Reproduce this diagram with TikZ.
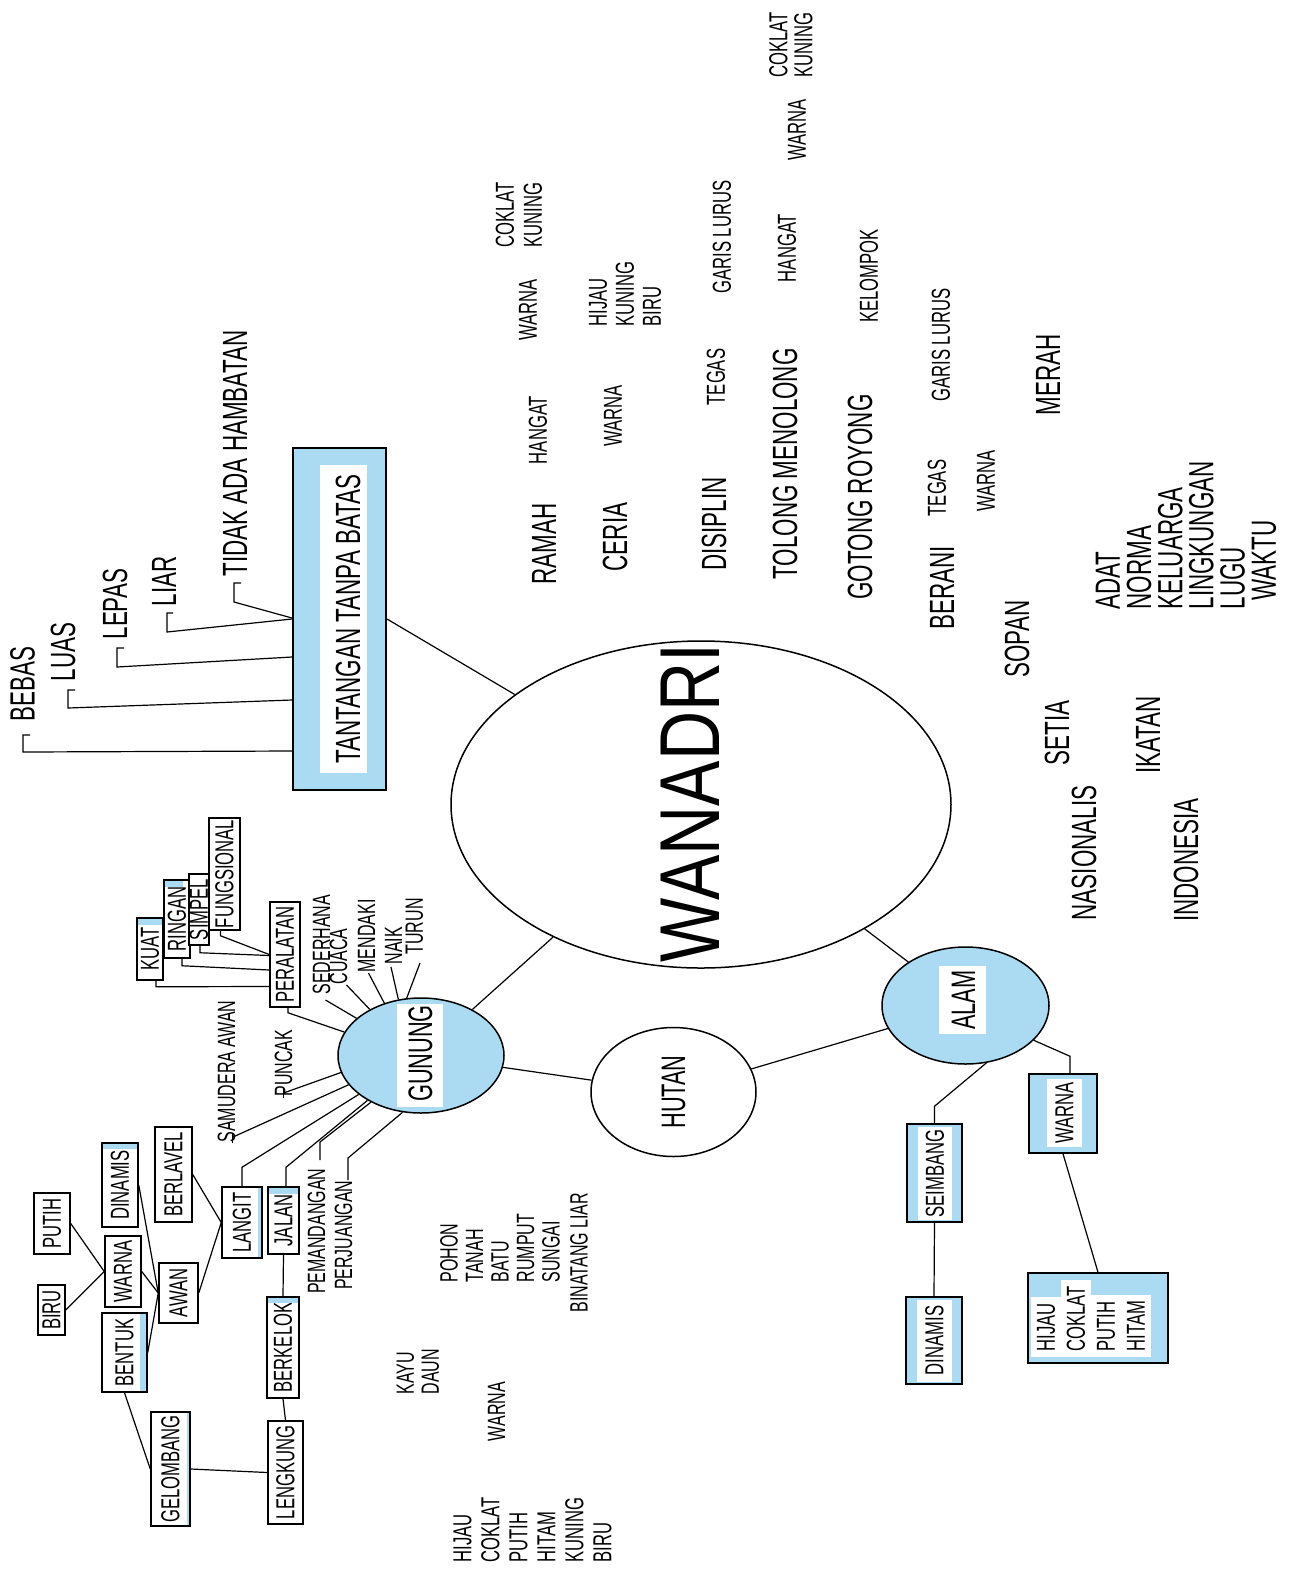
\documentclass[tikz,border=0pt]{standalone}
\usepackage{fontspec}
\setmainfont{Liberation Sans}[FakeStretch=0.64]
\newfontfamily\widefont{Liberation Sans}[FakeStretch=0.8]
\usetikzlibrary{shapes,calc}
\definecolor{skyblue}{RGB}{171,219,243}
\newcommand{\rotlabel}[1]{\rotatebox{90}{#1}}
\newcommand{\rotlines}[2]{\rotatebox{90}{\vbox{\baselineskip=#1\lineskiplimit=-50pt\lineskip=0pt\halign{##\hfil\cr#2\crcr}}}}
\newcommand{\whitebg}[1]{\colorbox{white}{#1}}
\setlength{\fboxsep}{3pt}

\begin{document}
\begin{tikzpicture}[x=0.5pt,y=-0.5pt,line width=0.6pt,
  lbl/.style={inner sep=0pt},
  big/.style={lbl,font=\fontsize{17.5}{17.5}\selectfont},
  small/.style={lbl,font=\fontsize{13}{13}\selectfont},
  tiny/.style={lbl,font=\fontsize{12.5}{12.5}\selectfont},
  tag/.style={draw,fill=white,inner sep=0pt,line width=0.75pt,font=\fontsize{13}{13}\selectfont},
  bluebox/.style={draw,fill=skyblue,inner sep=0pt,line width=0.75pt},
  whitebox/.style={fill=white,inner sep=0pt,font=\fontsize{13}{13}\selectfont},
  blob/.style={draw,ellipse,inner sep=0pt,line width=0.75pt}]
\useasboundingbox (0,0) rectangle (1302,1576);

\node[blob,minimum width=250pt,minimum height=163.5pt] (wanadri) at (701,804.5) {};
\node[lbl,font=\widefont\fontsize{42.5}{42.5}\selectfont] (wanadritxt) at (690,803) {\rotlabel{WANADRI}};

\node[bluebox,line width=1pt,minimum width=46.5pt,minimum height=171pt] (tantangan) at (339.5,619) {};
\node[whitebox,minimum width=23.5pt,minimum height=154pt] at (343.5,619) {};
\node[big] (tantangantxt) at (348,619) {\rotlabel{TANTANGAN TANPA BATAS}};

\node[big,anchor=south] (bebas) at (22.5,722) {\rotlabel{BEBAS}};
\node[big,anchor=south] (luas) at (63,682) {\rotlabel{LUAS}};
\node[big,anchor=south] (lepas) at (115,640) {\rotlabel{LEPAS}};
\node[big,anchor=south] (liar) at (164,607) {\rotlabel{LIAR}};
\node[big,anchor=south] (tidak) at (235,577) {\rotlabel{TIDAK ADA HAMBATAN}};

\node[big] (ramah) at (544,544) {\rotlabel{RAMAH}};
\node[small] (hangat1) at (538,430) {\rotlabel{HANGAT}};
\node[small] (warna1) at (528,310) {\rotlabel{WARNA}};
\node[small,anchor=south] (coklat1) at (519,248) {\rotlines{14pt}{COKLAT\cr KUNING}};
\node[big] (ceria) at (615,537) {\rotlabel{CERIA}};
\node[small] (warna2) at (613,416) {\rotlabel{WARNA}};
\node[small,anchor=south] (hijau1) at (625,327) {\rotlines{13.5pt}{HIJAU\cr KUNING\cr BIRU}};
\node[big] (disiplin) at (714,524) {\rotlabel{DISIPLIN}};
\node[small] (tegas1) at (716,377) {\rotlabel{TEGAS}};
\node[small] (garis1) at (722,237) {\rotlabel{GARIS LURUS}};
\node[big] (tolong) at (785,464) {\rotlabel{TOLONG MENOLONG}};
\node[small] (hangat2) at (787,248) {\rotlabel{HANGAT}};
\node[small] (warna3) at (797,130) {\rotlabel{WARNA}};
\node[small,anchor=south] (coklat2) at (791,78) {\rotlines{12.5pt}{COKLAT\cr KUNING}};
\node[big] (gotong) at (860,497) {\rotlabel{GOTONG ROYONG}};
\node[small] (kelompok) at (869,276) {\rotlabel{KELOMPOK}};
\node[big] (berani) at (942,588) {\rotlabel{BERANI}};
\node[small] (tegas2) at (937,488) {\rotlabel{TEGAS}};
\node[small] (garis2) at (941,345) {\rotlabel{GARIS LURUS}};
\node[small] (warna4) at (986,481) {\rotlabel{WARNA}};
\node[big] (merah) at (1048,375) {\rotlabel{MERAH}};
\node[big] (sopan) at (1017,639) {\rotlabel{SOPAN}};
\node[big,anchor=south] (adat) at (1186,610) {\rotlines{15.6pt}{ADAT\cr NORMA\cr KELUARGA\cr LINGKUNGAN\cr LUGU\cr \kern4.5pt WAKTU}};
\node[big] (setia) at (1057,733) {\rotlabel{SETIA}};
\node[big] (nasionalis) at (1084,853) {\rotlabel{NASIONALIS}};
\node[big] (ikatan) at (1148,735) {\rotlabel{IKATAN}};
\node[big] (indonesia) at (1186,860) {\rotlabel{INDONESIA}};

\node[blob,fill=skyblue,minimum width=83pt,minimum height=57.5pt] (gunung) at (421,1055.5) {};
\node[whitebox,minimum width=23pt,minimum height=51.5pt] at (420,1055.5) {};
\node[lbl,font=\fontsize{17}{17}\selectfont] (gunungtxt) at (420.5,1053.5) {\rotlabel{GUNUNG}};

\node[blob,fill=white,minimum width=82.5pt,minimum height=64.5pt,font=\fontsize{17}{17}\selectfont] (hutan) at (673.5,1092) {\rotlabel{HUTAN}};

\node[blob,fill=skyblue,minimum width=83.5pt,minimum height=58.5pt] (alam) at (965.5,1005.5) {};
\node[whitebox,minimum width=23.5pt,minimum height=34pt] at (962.5,1000) {};
\node[lbl,font=\fontsize{17}{17}\selectfont] (alamtxt) at (963.5,1000) {\rotlabel{ALAM}};

\node[tag,minimum width=15pt,minimum height=52.5pt] (peralatan) at (285,954.5) {\rotlabel{PERALATAN}};
\node[tag,minimum width=13pt,minimum height=31pt] (kuat) at (150,949) {\rotlabel{KUAT}};
\node[tag,minimum width=13pt,minimum height=39pt] (ringan) at (177,919) {\rotlabel{RINGAN}};
\node[tag,minimum width=10pt,minimum height=35.5pt] (simpel) at (199,909.5) {\rotlabel{SIMPEL}};
\node[tag,minimum width=15.5pt,minimum height=56pt] (fungsional) at (224.5,874) {\rotlabel{FUNGSIONAL}};

\node[tiny,anchor=south] (sederhana) at (321.5,995) {\rotlabel{SEDERHANA}};
\node[tiny,anchor=south] (cuaca) at (338.5,985) {\rotlabel{CUACA}};
\node[tiny,anchor=south] (mendaki) at (366.5,973) {\rotlabel{MENDAKI}};
\node[tiny,anchor=south] (naik) at (393.5,965) {\rotlabel{NAIK}};
\node[tiny,anchor=south] (turun) at (414.5,955) {\rotlabel{TURUN}};
\node[tiny,anchor=south] (puncak) at (283.5,1097) {\rotlabel{PUNCAK}};
\node[tiny,anchor=south] (samudera) at (226.5,1143) {\rotlabel{SAMUDERA AWAN}};
\node[tiny,anchor=north] (pemandangan) at (316.5,1168) {\rotlabel{PEMANDANGAN}};
\node[tiny,anchor=north] (perjuangan) at (343.5,1180) {\rotlabel{PERJUANGAN}};

\node[tag,minimum width=20pt,minimum height=35.5pt] (langit) at (242,1222.5) {\rotlabel{LANGIT}};
\node[tag,minimum width=15.5pt,minimum height=33.5pt] (jalan) at (283.5,1220.5) {\rotlabel{JALAN}};
\node[tag,minimum width=16pt,minimum height=50.5pt] (berkelok) at (283,1347.5) {\rotlabel{BERKELOK}};
\node[tag,minimum width=17.5pt,minimum height=51.5pt] (lengkung) at (285.5,1472.5) {\rotlabel{LENGKUNG}};
\node[tag,minimum width=19.5pt,minimum height=57pt] (gelombang) at (170.5,1469) {\rotlabel{GELOMBANG}};
\node[tag,minimum width=18.5pt,minimum height=47.5pt] (berlavel) at (173.5,1174.5) {\rotlabel{BERLAVEL}};
\node[tag,minimum width=19.5pt,minimum height=30pt] (awan) at (178.5,1293) {\rotlabel{AWAN}};
\node[tag,minimum width=22.5pt,minimum height=39.5pt] (bentuk) at (124.5,1352.5) {\rotlabel{BENTUK}};
\node[tag,minimum width=18pt,minimum height=42pt] (dinamis1) at (120,1185) {\rotlabel{DINAMIS}};
\node[tag,minimum width=18pt,minimum height=35.5pt] (warna5) at (123,1271.5) {\rotlabel{WARNA}};
\node[tag,minimum width=18pt,minimum height=30.5pt] (putih) at (52,1223.5) {\rotlabel{PUTIH}};
\node[tag,minimum width=13.5pt,minimum height=25pt] (biru) at (51.5,1310) {\rotlabel{BIRU}};

\fill[skyblue] ($(kuat.north west)+(1.5,1.5)$) rectangle ($(kuat.north east)+(-1.5,8)$);
\fill[skyblue] ($(ringan.north west)+(2,1.5)$) rectangle ($(ringan.north east)+(-8,8)$);
\fill[skyblue] ($(dinamis1.north west)+(1.5,1.5)$) rectangle ($(dinamis1.north east)+(-1.5,7)$);
\fill[skyblue] ($(bentuk.north east)+(-8,1.5)$) rectangle ($(bentuk.south east)+(-1.5,-1.5)$);
\fill[skyblue] ($(jalan.north west)+(1.5,1.5)$) rectangle ($(jalan.north east)+(-1.5,8)$);
\fill[skyblue] ($(berkelok.north west)+(1.5,1.5)$) rectangle ($(berkelok.north east)+(-1.5,7)$);
\fill[skyblue] ($(langit.north east)+(-5,1.5)$) rectangle ($(langit.south east)+(-1.5,-1.5)$);
\fill[skyblue] ($(gelombang.north east)+(-4,1.5)$) rectangle ($(gelombang.south east)+(-1.5,-1.5)$);

\node[tiny,anchor=south] (pohon) at (500,1283) {\rotlines{12.75pt}{POHON\cr TANAH\cr BATU\cr RUMPUT\cr SUNGAI}};
\node[tiny] (binatang) at (579,1252.5) {\rotlabel{BINATANG LIAR}};
\node[tiny,anchor=south] (kayu) at (418,1395) {\rotlines{12.5pt}{KAYU\cr DAUN}};
\node[tiny] (warna6) at (496.5,1411.5) {\rotlabel{WARNA}};
\node[small,anchor=south] (hijau2) at (532.5,1563) {\rotlines{14pt}{HIJAU\cr COKLAT\cr PUTIH\cr HITAM\cr KUNING\cr BIRU}};

\node[bluebox,minimum width=34pt,minimum height=39.5pt] (warna7) at (1063,1113.5) {};
\node[whitebox,minimum width=17.5pt,minimum height=34pt] at (1064.5,1113) {\rotlabel{WARNA}};
\node[bluebox,minimum width=27.5pt,minimum height=49pt] (seimbang) at (934.5,1173) {};
\node[whitebox,minimum width=17pt,minimum height=46.5pt] at (935,1173.5) {\rotlabel{SEIMBANG}};
\node[bluebox,minimum width=28pt,minimum height=43.5pt] (dinamis2) at (934,1340.5) {};
\node[whitebox,minimum width=17.5pt,minimum height=41pt] at (934.5,1340.5) {\rotlabel{DINAMIS}};
\node[bluebox,minimum width=70pt,minimum height=45pt] (warnalist) at (1098,1318) {};
\node[small,anchor=south] (warnalisttxt) at (1091,1358) {\rotlines{15pt}{\whitebg{HIJAU}\cr\whitebg{COKLAT}\cr\whitebg{PUTIH}\cr\whitebg{HITAM}}};

\draw (tantangan.east) -- (wanadri);
\draw ($(tantangan.west)+(0,132)$) -- ($(bebas.south)+(0.5,30)$) -- ($(bebas.south)+(0.5,13)$) -- ++(7,0);
\draw ($(tantangan.west)+(0,81)$) -- ($(luas.south)+(5,26)$) -- ($(luas.south)+(5,8)$) -- ++(7,0);
\draw ($(tantangan.west)+(0,38)$) -- ($(lepas.south)+(2,27)$) -- ($(lepas.south)+(2,8)$) -- ++(7,0);
\draw (tantangan.west) -- ($(liar.south)+(3,25)$) -- ($(liar.south)+(3,6)$) -- ++(6,0);
\draw ($(tantangan.west)+(0,-1)$) -- ($(tidak.south)+(-1,25)$) -- ($(tidak.south)+(-1,6)$) -- ++(7,0);

\draw (gunung) -- (wanadri);
\draw (gunung) -- (hutan);
\draw (alam) -- (hutan);
\draw (alam) -- (wanadri);

\draw ($(kuat.south)+(6,0)$) -- ++(0,6) -- ($(peralatan.west)+(0,32)$);
\draw ($(ringan.south)+(5,0)$) -- ++(0,7) -- ($(peralatan.west)+(0,15.5)$);
\draw ($(simpel.south)+(1,0)$) -- ++(0,7) -- ($(peralatan.west)+(0,1)$);
\draw ($(fungsional.south)+(-4,0)$) -- ++(0,5) -- (peralatan.west);
\draw ($(peralatan.south)+(3,0)$) -- ++(0,5) -- (gunung.163);

\draw (gunung.150) -- ($(sederhana.south)+(4,5)$);
\draw (gunung.138) -- ($(cuaca.south)+(8,0)$);
\draw (gunung.125) -- ($(mendaki.south)+(2,0)$);
\draw (gunung.112) -- ($(naik.south)+(-2.5,2)$);
\draw (gunung.104) -- ($(turun.south)+(5.5,8)$);
\draw (gunung.192) -- ($(puncak.south)+(0,-4)$);
\draw ($(puncak.south)+(0,-8)$) -- ($(puncak.south)+(0,1)$);
\draw (gunung.202) -- ($(samudera.south)+(6.5,-6)$);
\draw ($(samudera.south)+(6,-10)$) -- ($(samudera.south)+(6,0)$);
\draw (gunung.212) -- ($(langit.north)+(0,-19)$) -- (langit.north);
\draw (gunung.220) -- ($(jalan.north)+(2.5,-19)$) -- ($(jalan.north)+(2.5,0)$);
\draw (gunung.223) -- ($(pemandangan.north)+(3.5,-26)$) -- ($(pemandangan.north)+(3.5,-8)$);
\draw (gunung.252) -- ($(perjuangan.north)+(4.5,-22)$) -- ($(perjuangan.north)+(4.5,0)$);

\draw (biru.east) -- (warna5.west);
\draw (putih.east) -- (warna5.west);
\draw (warna5.east) -- (awan.west);
\draw (dinamis1.east) -- (awan.west);
\draw (bentuk.east) -- (awan.west);
\draw (awan.east) -- (langit.west);
\draw (berlavel.east) -- (langit.west);
\draw (bentuk.south) -- (gelombang.west);
\draw (gelombang.east) -- (lengkung.west);
\draw (lengkung.north) -- (berkelok.south);
\draw (berkelok.north) -- (jalan.south);

\draw (alam.-70) -- ($(seimbang.north)+(0,-17)$) -- (seimbang.north);
\draw (alam.-27) -- ($(warna7.north)+(7,-17)$) -- ($(warna7.north)+(7,0)$);
\draw (seimbang.south) -- (dinamis2.north);
\draw (warna7.south) -- (warnalist.north);
\end{tikzpicture}
\end{document}
